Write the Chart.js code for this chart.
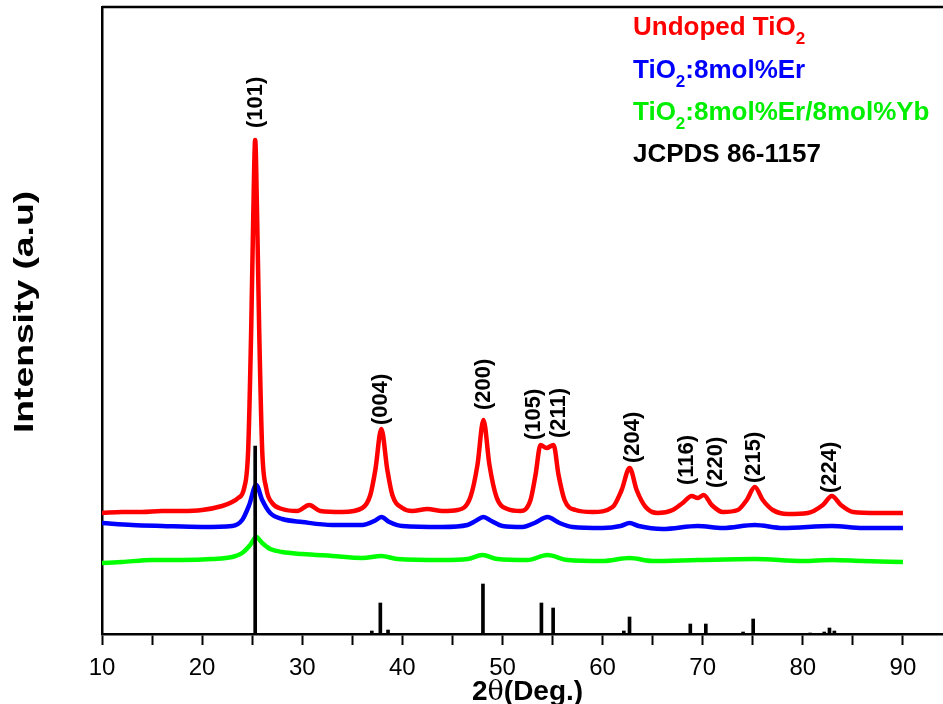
<!DOCTYPE html>
<html>
<head>
<meta charset="utf-8">
<script src="https://cdn.jsdelivr.net/npm/chart.js@4.4.0/dist/chart.umd.min.js"></script>
<style>
  body { margin: 0; background: #fff; }
  #wrap { width: 943px; height: 704px; }
</style>
</head>
<body>
<div id="wrap"><canvas id="xrdChart" width="943" height="704"></canvas></div>
<script>
// 2theta (deg) and intensity (a.u.)
let undopedTheta = [10, 12, 14, 16, 18, 20, 22, 23, 23.6, 24.2, 24.6, 24.9, 25.1, 25.3, 25.5, 25.7, 26, 26.4, 27, 28,
    29.5, 30.7, 31.8, 34, 36, 36.8, 37.3, 37.9, 38.5, 39, 40, 41, 42.5, 44, 45.5, 46.8, 47.5, 48.1, 48.7, 49.4,
    50.5, 51.8, 52.8, 53.3, 53.8, 54.4, 55.1, 55.6, 56.2, 57.3, 59, 61, 61.9, 62.7, 63.4, 64.3, 65.5, 67, 68, 68.9,
    69.5, 70.1, 70.9, 72, 73.5, 74.4, 75.2, 76, 77, 78.5, 80.5, 82, 82.9, 83.8, 85, 87.5, 90];
let undopedCounts = [121, 122, 122, 123, 123, 124, 128, 132, 136, 146, 184, 304, 414, 494, 414, 304, 184, 146, 131, 125,
    123, 129, 123, 122, 126, 139, 164, 205, 164, 139, 126, 123, 125, 123, 124, 137, 169, 214, 169, 137,
    125, 123, 134, 159, 189, 186, 189, 159, 134, 124, 122, 127, 144, 166, 144, 127, 121, 124, 131, 138,
    136, 139, 129, 122, 124, 134, 147, 134, 124, 120, 121, 129, 138, 129, 122, 121, 121];

let erTheta = [10, 13, 16, 20, 23, 24, 24.7, 25.4, 26, 26.8, 28, 30, 33, 36, 37.2, 37.9, 38.7, 40, 44, 46.5,
    47.3, 48.1, 48.9, 50, 52, 53.2, 54.5, 55.7, 57, 60, 61.8, 62.7, 63.6, 66, 69.5, 72, 75.2, 78, 82.9, 86, 90];
let erCounts = [111, 109, 108, 107, 108, 114, 129, 149, 134, 121, 115, 112, 109, 109, 113, 117, 112, 108, 107, 109,
    113, 117, 113, 108, 107, 111, 117, 111, 107, 106, 108, 111, 108, 105, 108, 106, 109, 106, 108, 106, 106];

let erYbTheta = [10, 12, 15, 18, 21, 23, 24, 24.8, 25.4, 26, 26.8, 28, 30, 33, 36, 37.9, 39.5, 44, 46.5, 48,
    49.5, 52.5, 54.5, 56.5, 60, 62.7, 65, 69.5, 75.2, 80, 82.9, 86, 90];
let erYbCounts = [71, 72, 74, 74, 75, 77, 81, 89, 97, 91, 85, 82, 80, 78, 76, 78, 75, 74, 75, 79,
    75, 74, 79, 74, 73, 76, 73, 74, 75, 73, 74, 73, 72];

// JCPDS 86-1157 reference lines
let jcpdsTheta = [25.3, 36.95, 37.8, 38.57, 48.05, 53.89, 55.06, 62.12, 62.69, 68.76, 70.31, 74.03, 75.04, 80.73, 82.14, 82.66, 83.15];
let jcpdsCounts = [188, 3, 31, 4, 50, 31, 26, 3, 17, 10, 10, 2, 15, 1, 2, 6, 3];

// (hkl) labels: 2theta and intensity where each label starts
let hklLabels = ['(101)', '(004)', '(200)', '(105)', '(211)', '(204)', '(116)', '(220)', '(215)', '(224)'];
let hklTheta = [25.4, 37.9, 48.1, 53.1, 55.6, 63.0, 68.4, 71.3, 75.1, 82.7];
let hklHeight = [506, 209, 224, 194, 196, 171, 149, 146, 151, 141];

let seriesNames = [['Undoped TiO', '2', ''], ['TiO', '2', ':8mol%Er'], ['TiO', '2', ':8mol%Er/8mol%Yb'], ['JCPDS 86-1157', '', '']];
let seriesColors = ['#ff0000', '#0000ff', '#00ff00', '#000000'];

let xTickLabels = [10, 20, 30, 40, 50, 60, 70, 80, 90];

function toPoints(xs, ys) {
    return xs.map((x, i) => ({ x: x, y: ys[i] }));
}

const FONT = 'Arial, "Liberation Sans", sans-serif';

const decorations = {
    id: 'decorations',
    afterDraw(chart) {
        let ctx = chart.ctx;
        let area = chart.chartArea;
        let xs = chart.scales.x;
        let ys = chart.scales.y;
        ctx.save();

        // top frame line
        ctx.strokeStyle = '#000';
        ctx.lineWidth = 2.5;
        ctx.beginPath();
        ctx.moveTo(area.left, area.top);
        ctx.lineTo(area.right, area.top);
        ctx.stroke();

        // peak labels
        ctx.fillStyle = '#000';
        ctx.font = 'bold 22px ' + FONT;
        ctx.textAlign = 'left';
        ctx.textBaseline = 'middle';
        hklLabels.forEach((t, i) => {
            ctx.save();
            ctx.translate(xs.getPixelForValue(hklTheta[i]), ys.getPixelForValue(hklHeight[i]));
            ctx.rotate(-Math.PI / 2);
            ctx.fillText(t, 0, 0);
            ctx.restore();
        });

        // legend text
        let baselines = [35, 78, 120, 162];
        ctx.textBaseline = 'alphabetic';
        seriesNames.forEach((parts, i) => {
            let x = 633;
            ctx.fillStyle = i === 2 ? '#00ee00' : seriesColors[i];
            ctx.font = 'bold 26px ' + FONT;
            ctx.fillText(parts[0], x, baselines[i]);
            x += ctx.measureText(parts[0]).width;
            if (parts[1]) {
                ctx.font = 'bold 17px ' + FONT;
                ctx.fillText(parts[1], x, baselines[i] + 9);
                x += ctx.measureText(parts[1]).width;
            }
            ctx.font = 'bold 26px ' + FONT;
            ctx.fillText(parts[2], x, baselines[i]);
        });

        // x title
        ctx.fillStyle = '#000';
        let tx = 472;
        ctx.font = 'bold 28px ' + FONT;
        ctx.fillText('2', tx, 700);
        tx += ctx.measureText('2').width;
        ctx.font = '27px "DejaVu Serif", serif';
        ctx.fillText('\u03b8', tx, 700);
        tx += ctx.measureText('\u03b8').width;
        ctx.font = 'bold 28px ' + FONT;
        ctx.fillText('(Deg.)', tx, 700);

        // y title
        ctx.save();
        ctx.translate(26, 312);
        ctx.rotate(-Math.PI / 2);
        ctx.scale(1.38, 1);
        ctx.font = 'bold 27px ' + FONT;
        ctx.textAlign = 'center';
        ctx.textBaseline = 'middle';
        ctx.fillText('Intensity (a.u)', 0, 0);
        ctx.restore();

        ctx.restore();
    }
};

let lineStyle = {
    type: 'line',
    borderWidth: 4.5,
    pointRadius: 0,
    fill: false,
    cubicInterpolationMode: 'monotone',
    order: 1
};

let ctx = document.getElementById('xrdChart').getContext('2d');

let xrdChart = new Chart(ctx, {
    type: 'line',
    data: {
        datasets: [
            Object.assign({ label: 'Undoped', data: toPoints(undopedTheta, undopedCounts), borderColor: seriesColors[0] }, lineStyle),
            Object.assign({ label: 'Er', data: toPoints(erTheta, erCounts), borderColor: seriesColors[1] }, lineStyle),
            Object.assign({ label: 'Er/Yb', data: toPoints(erYbTheta, erYbCounts), borderColor: seriesColors[2] }, lineStyle),
            {
                type: 'bar',
                label: 'JCPDS',
                data: toPoints(jcpdsTheta, jcpdsCounts),
                backgroundColor: seriesColors[3],
                borderWidth: 0,
                barThickness: 3,
                order: 0
            }
        ]
    },
    options: {
        responsive: false,
        animation: false,
        layout: { padding: { top: 7, right: 0, left: 0, bottom: 0 } },
        plugins: { legend: { display: false }, tooltip: { enabled: false } },
        scales: {
            x: {
                type: 'linear',
                min: 10,
                max: 94,
                offset: false,
                afterFit: function (scale) { scale.height = 70; },
                grid: { display: true, drawOnChartArea: false, drawTicks: true, tickLength: 11, tickWidth: 2, tickColor: '#000', offset: false },
                border: { display: true, color: '#000', width: 2.5 },
                ticks: {
                    stepSize: 5,
                    includeBounds: false,
                    maxRotation: 0,
                    autoSkip: false,
                    padding: 9,
                    color: '#000',
                    font: { family: FONT, size: 24 },
                    callback: function (v) { return xTickLabels.indexOf(v) >= 0 ? String(v) : ''; }
                }
            },
            y: {
                type: 'linear',
                min: 0,
                max: 627,
                afterFit: function (scale) { scale.width = 102; },
                grid: { display: false },
                border: { display: true, color: '#000', width: 2.5 },
                ticks: { display: false }
            }
        }
    },
    plugins: [decorations]
});
</script>
</body>
</html>
